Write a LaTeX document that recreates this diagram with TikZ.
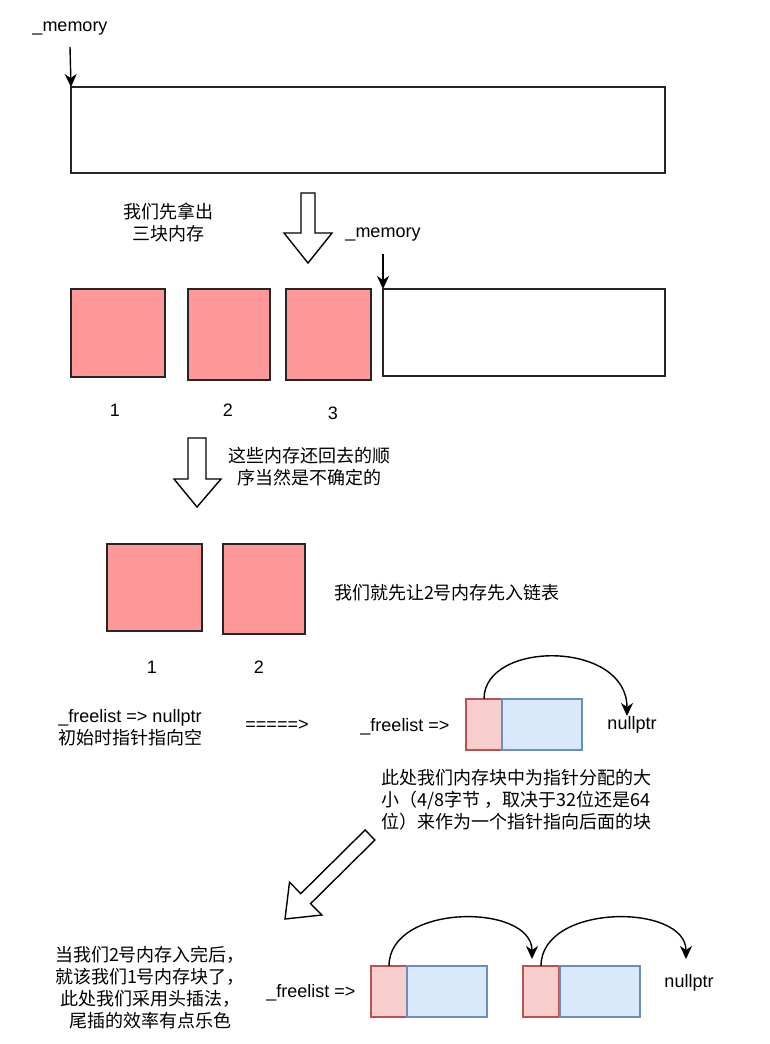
\documentclass[tikz,border=0pt]{standalone}
\usepackage{fontspec}
\setmainfont{Liberation Sans}
\newfontfamily\cjk{Noto Sans CJK SC}
\usepackage{tikz}
\usetikzlibrary{arrows.meta}

\definecolor{blockpink}{RGB}{255,153,153}
\definecolor{ptrfill}{RGB}{248,206,204}
\definecolor{ptrdraw}{RGB}{184,84,80}
\definecolor{datafill}{RGB}{218,232,252}
\definecolor{datadraw}{RGB}{108,142,191}

\tikzset{
  box/.style={draw=black!85, line width=1.4pt, inner sep=0pt, outer sep=0pt, anchor=north west},
  memblock/.style={box, fill=blockpink},
  ptrpart/.style={box, draw=ptrdraw, fill=ptrfill, minimum width=36pt, minimum height=51pt},
  datapart/.style={box, draw=datadraw, fill=datafill, minimum width=80pt, minimum height=51pt},
  bigarrow/.style={draw=black, fill=white, line width=1.4pt},
  ptrarrow/.style={-{Stealth[length=13pt,width=12pt,inset=4pt]}, line width=1.4pt},
  txt/.style={inner sep=1pt, align=center},
}

\begin{document}
\begin{tikzpicture}[x=1pt, y=-1pt, font=\fontsize{18}{22}\selectfont]
\useasboundingbox (0,0) rectangle (770,1044);

\node[txt] (mem1) at (70,29) {\_memory};
\coordinate (mem1tip) at (70,47);
\node[box, minimum width=594pt, minimum height=86pt] (heap) at (71,87) {};
\draw[ptrarrow] (mem1tip) -- (heap.north west);

\node[txt] (take) at (168,222) {\cjk 我们先拿出\\\cjk 三块内存};
\draw[bigarrow] (301,193) -- (315,193) -- (315,233) -- (332,233) -- (308,263) -- (284,233) -- (301,233) -- cycle;

\node[txt] (mem2) at (383,235) {\_memory};
\coordinate (mem2tip) at (383,254);
\node[memblock, minimum width=94pt, minimum height=88pt] (b1) at (71,289) {};
\node[memblock, minimum width=82pt, minimum height=91pt] (b2) at (188,289) {};
\node[memblock, minimum width=85pt, minimum height=91pt] (b3) at (286,289) {};
\node[box, minimum width=282pt, minimum height=87pt] (rest) at (383,289) {};
\draw[ptrarrow] (mem2tip) -- (rest.north west);
\node[txt] (lb1) at (115,410) {1};
\node[txt] (lb2) at (228,410) {2};
\node[txt] (lb3) at (333,413) {3};

\draw[bigarrow] (188,438) -- (206,438) -- (206,479) -- (221,479) -- (197,507) -- (174,479) -- (188,479) -- cycle;
\node[txt] (order) at (309,467) {\cjk 这些内存还回去的顺\\\cjk 序当然是不确定的};

\node[memblock, minimum width=95pt, minimum height=87pt] (c1) at (107,544) {};
\node[memblock, minimum width=82pt, minimum height=90pt] (c2) at (223,544) {};
\node[txt] (first) at (447,593) {\cjk 我们就先让2号内存先入链表};
\node[txt] (lc1) at (152,667) {1};
\node[txt] (lc2) at (259,667) {2};

\node[txt] (init) at (130,728) {\_freelist => nullptr\\\cjk 初始时指针指向空};
\node[txt] (becomes) at (277,725) {=====>};
\node[txt] (head1) at (405,727) {\_freelist =>};
\node[ptrpart] (n1p) at (466,699) {};
\node[datapart] (n1d) at (502,699) {};
\node[txt] (null1) at (632,725) {nullptr};
\coordinate (null1in) at (627,716);
\draw[ptrarrow] (n1p.north) .. controls (484,640) and (627,640) .. (null1in);

\node[txt, align=left, anchor=west] (size) at (380,800) {\cjk 此处我们内存块中为指针分配的大\\\cjk 小（4/8字节 ，取决于32位还是64\\\cjk 位）来作为一个指针指向后面的块};
\draw[bigarrow] (365.1,830) -- (374.9,840) -- (310.6,903.6) -- (321.9,915) -- (285,919) -- (289.5,882.2) -- (300.8,893.6) -- cycle;

\node[txt] (headins) at (150,988) {\cjk 当我们2号内存入完后，\\\cjk 就该我们1号内存块了，\\\cjk 此处我们采用头插法，\\\cjk 尾插的效率有点乐色};
\node[txt] (head2) at (311,993) {\_freelist =>};
\node[ptrpart] (a1p) at (371,966) {};
\node[datapart] (a1d) at (407,966) {};
\node[ptrpart] (a2p) at (523,966) {};
\node[datapart] (a2d) at (560,966) {};
\node[txt] (null2) at (689,983) {nullptr};
\coordinate (a2in) at (532,959);
\coordinate (null2in) at (686,959);
\draw[ptrarrow] (a1p.north) .. controls (389,903) and (532,903) .. (a2in);
\draw[ptrarrow] (a2p.north) .. controls (541,903) and (686,903) .. (null2in);
\end{tikzpicture}
\end{document}
